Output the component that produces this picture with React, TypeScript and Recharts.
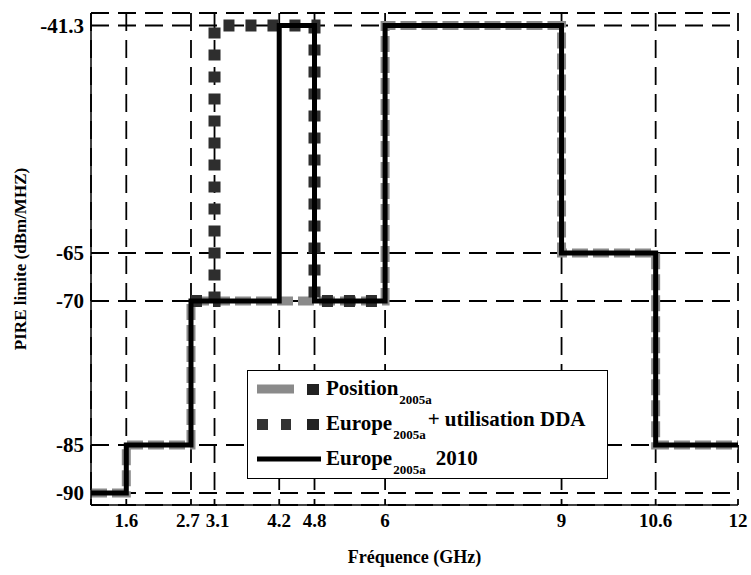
import React from "react";
import { LineChart, Line, XAxis, YAxis, CartesianGrid, Legend } from "recharts";

// Limites PIRE en marches d'escalier (fréquence de début de palier -> niveau)
const FREQ_POSITION = [1, 1.6, 2.7, 6, 9, 10.6, 12];
const PIRE_POSITION = [-90, -85, -70, -41.3, -65, -85, -85];

const FREQ_DDA = [2.7, 3.1, 4.8, 6];
const PIRE_DDA = [-70, -41.3, -70, -70];

const FREQ_2010 = [1, 1.6, 2.7, 4.2, 4.8, 6, 9, 10.6, 12];
const PIRE_2010 = [-90, -85, -70, -41.3, -70, -41.3, -65, -85, -85];

const X_TICKS = [1.6, 2.7, 3.1, 4.2, 4.8, 6, 9, 10.6, 12];
const Y_TICKS = [-90, -85, -70, -65, -41.3];

const toPoints = (xs: number[], ys: number[]) => xs.map((x, i) => ({ x, y: ys[i] }));

const positionData = toPoints(FREQ_POSITION, PIRE_POSITION);
const ddaData = toPoints(FREQ_DDA, PIRE_DDA);
const europe2010Data = toPoints(FREQ_2010, PIRE_2010);

const SERIF = "Liberation Serif, Times New Roman, Times, DejaVu Serif, serif";
const tickStyle = { fontFamily: SERIF, fontWeight: "bold" as const, fontSize: 21, fill: "#000" };

// 2.7 et 3.1 sont très proches : on écarte un peu les deux libellés
const NUDGE: Record<string, number> = { "2.7": -3, "3.1": 3 };

function FreqTick(props: any) {
  const { x, y, payload } = props;
  const dx = NUDGE[String(payload.value)] ?? 0;
  return (
    <text
      x={x + dx}
      y={y}
      dy="0.8em"
      textAnchor="middle"
      fontFamily={SERIF}
      fontWeight="bold"
      fontSize={19}
      fill="#000"
    >
      {payload.value}
    </text>
  );
}

function Sub({ children }: { children: React.ReactNode }) {
  return (
    <span style={{ fontSize: 13, position: "relative", top: 9, marginLeft: 1 }}>{children}</span>
  );
}

function LegendBox() {
  const row: React.CSSProperties = { display: "flex", alignItems: "center", height: 35 };
  const sample = { width: 69, height: 14, flex: "none" as const };
  return (
    <div
      style={{
        width: 361,
        height: 109,
        boxSizing: "border-box",
        border: "1.5px solid #000",
        background: "#fff",
        paddingLeft: 9,
        fontFamily: SERIF,
        fontWeight: "bold",
        fontSize: 21,
        color: "#000",
        lineHeight: 1,
      }}
    >
      <div style={row}>
        <svg style={sample}>
          <line x1={0} y1={7} x2={37} y2={7} stroke="#8a8a8a" strokeWidth={9} />
          <rect x={50} y={2} width={12} height={11} fill="#222" />
        </svg>
        <span>
          Position<Sub>2005a</Sub>
        </span>
      </div>
      <div style={row}>
        <svg style={sample}>
          <rect x={0} y={2} width={11} height={11} fill="#333" />
          <rect x={24} y={2} width={10} height={11} fill="#333" />
          <rect x={50} y={2} width={12} height={11} fill="#222" />
        </svg>
        <span>
          Europe<Sub>2005a</Sub>
          <span style={{ position: "relative", top: -4, marginLeft: 2 }}>+ utilisation DDA</span>
        </span>
      </div>
      <div style={row}>
        <svg style={sample}>
          <line x1={0} y1={7} x2={64} y2={7} stroke="#000" strokeWidth={5} />
        </svg>
        <span>
          Europe<Sub>2005a</Sub>
          <span style={{ marginLeft: 10 }}>2010</span>
        </span>
      </div>
    </div>
  );
}

export default function App() {
  return (
    <div style={{ position: "absolute", left: 0, top: 0, width: 751, height: 575, background: "#fff" }}>
      <LineChart width={751} height={575} margin={{ top: 13, right: 13, left: 0, bottom: 0 }}>
        <CartesianGrid stroke="#000" strokeWidth={1.8} strokeDasharray="18 9" />
        <XAxis
          dataKey="x"
          type="number"
          domain={[1, 12]}
          ticks={X_TICKS}
          allowDuplicatedCategory={false}
          height={70}
          tickSize={0}
          tickMargin={7}
          tick={<FreqTick />}
          axisLine={{ stroke: "#000", strokeWidth: 1.5 }}
          interval={0}
          label={{
            value: "Fréquence (GHz)",
            position: "insideBottom",
            offset: 12,
            style: { fontFamily: SERIF, fontWeight: "bold", fontSize: 18, fill: "#000" },
          }}
        />
        <XAxis
          xAxisId="top"
          orientation="top"
          type="number"
          domain={[1, 12]}
          height={0}
          tick={false}
          tickLine={false}
          axisLine={{ stroke: "#000", strokeWidth: 1.5 }}
        />
        <YAxis
          type="number"
          domain={[-91.25, -40]}
          ticks={Y_TICKS}
          width={91}
          tickSize={0}
          tickMargin={7}
          tick={tickStyle}
          interval={0}
          axisLine={{ stroke: "#000", strokeWidth: 1.5 }}
          label={{
            value: "PIRE limite (dBm/MHZ)",
            angle: -90,
            position: "center",
            dx: -26,
            style: { fontFamily: SERIF, fontWeight: "bold", fontSize: 17, fill: "#000" },
          }}
        />
        <YAxis
          yAxisId="right"
          orientation="right"
          type="number"
          domain={[-91.25, -40]}
          width={0}
          tick={false}
          tickLine={false}
          axisLine={{ stroke: "#000", strokeWidth: 1.5 }}
        />
        <Line
          data={positionData}
          dataKey="y"
          type="stepAfter"
          stroke="#8a8a8a"
          strokeWidth={9}
          strokeDasharray="16 5"
          dot={false}
          isAnimationActive={false}
        />
        <Line
          data={ddaData}
          dataKey="y"
          type="stepAfter"
          stroke="#2e2e2e"
          strokeWidth={12}
          strokeDasharray="11 11"
          dot={false}
          isAnimationActive={false}
        />
        <Line
          data={europe2010Data}
          dataKey="y"
          type="stepAfter"
          stroke="#000"
          strokeWidth={5}
          dot={false}
          isAnimationActive={false}
        />
        <Legend
          layout="horizontal"
          verticalAlign="middle"
          align="center"
          wrapperStyle={{ left: 247, top: 370, width: 361, height: 109 }}
          content={() => <LegendBox />}
        />
      </LineChart>
    </div>
  );
}
